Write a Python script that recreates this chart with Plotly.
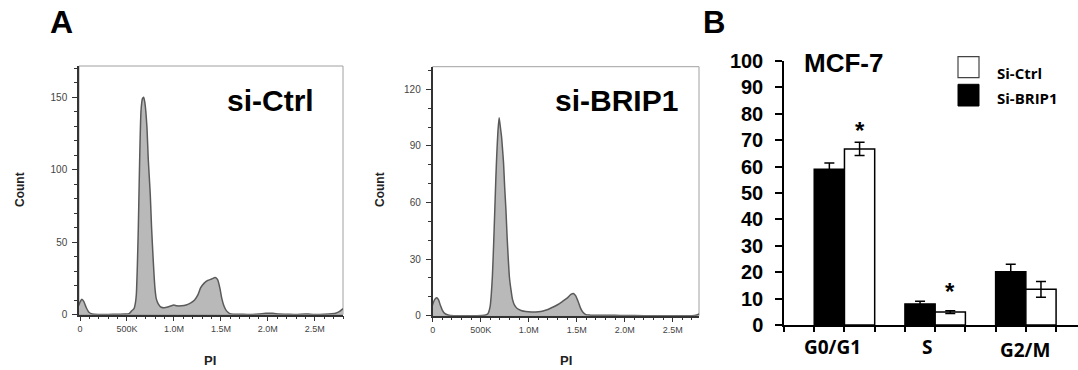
import numpy as np
import plotly.graph_objects as go

W, H = 1078, 370
OFF = 0  # body margin is removed below, so the figure sits at the top-left corner

# ---------------- Panel A data (flow cytometry histograms, PI in K units) ----------------
ctrl_pi_k = [-15, 0, 20, 40, 65, 95, 130, 200, 300, 400, 480, 522, 550, 575, 590, 600, 610, 621,
             630, 639, 650, 665, 678, 691, 712, 727, 748, 762, 780, 797, 812, 833, 865, 893, 950,
             1000, 1030, 1080, 1130, 1180, 1220, 1255, 1285, 1320, 1360, 1400, 1440, 1465, 1490,
             1510, 1535, 1560, 1590, 1630, 1700, 1800, 1900, 1980, 2050, 2120, 2200, 2300, 2400,
             2450, 2550, 2650, 2720, 2760, 2800]
ctrl_count = [6, 8.5, 10.5, 9, 5, 1.5, 0.3, 0, 0, 0.2, 0.3, 0.6, 2.5, 4, 8, 14, 32, 60,
              90, 118, 141, 149, 150, 146, 130, 107, 83, 60, 37, 19, 11, 7.4, 5, 4.6, 5.5,
              6.5, 6, 6, 6.5, 8, 10, 13.5, 18.5, 21.5, 23.5, 24.5, 25.5, 24, 18,
              11, 5.5, 2.5, 0.8, 0.2, 0.2, 0, 0.3, 0.8, 0.8, 0.3, 0.2, 0, 0.4,
              0.2, 0, 0.3, 0.8, 2.0, 4.0]

brip_pi_k = [-10, 0, 20, 42, 60, 80, 100, 125, 160, 220, 350, 450, 540, 575, 598, 610, 622, 635,
             647, 658, 668, 680, 692, 705, 717, 728, 738, 750, 763, 775, 788, 800, 816, 832, 851,
             880, 920, 970, 1030, 1100, 1150, 1200, 1250, 1300, 1350, 1400, 1440, 1465, 1490,
             1515, 1540, 1565, 1595, 1640, 1750, 1900, 2000, 2200, 2500, 2700, 2750, 2775]
brip_count = [4.5, 6, 8.5, 9.5, 8.5, 5.5, 3, 1.2, 0.4, 0, 0, 0, 0.2, 1, 4.8, 11, 21, 38,
              56, 73, 86, 98, 105, 100, 95, 88, 81, 68, 56, 42, 29.5, 20, 13.6, 8.5, 5.7,
              3.8, 2.8, 2.2, 2, 2.1, 2.5, 3.3, 4.5, 5.8, 7.5, 9.3, 11.3, 11.8, 10.5,
              7.5, 4, 1.8, 0.6, 0.3, 0.2, 0.2, 0.1, 0, 0, 0, 0.4, 1.0]

pi_tickvals = [0, 500000, 1000000, 1500000, 2000000, 2500000]
pi_ticktext = ["0", "500K", "1.0M", "1.5M", "2.0M", "2.5M"]
ctrl_count_ticks = [0, 50, 100, 150]
brip_count_ticks = [0, 30, 60, 90, 120]

# ---------------- Panel B data (cell cycle %) ----------------
phases = ["G0/G1", "S", "G2/M"]
si_brip1 = [59, 8, 20.2]
si_brip1_err = [2.4, 1.0, 2.8]
si_ctrl = [66.7, 4.9, 13.5]
si_ctrl_err = [2.5, 0.5, 3.0]
star_level = [74.6, 13.6, None]  # asterisk height (%) over Si-Ctrl bars
pct_ticks = list(range(0, 101, 10))

FONT = "Liberation Sans, Arial, sans-serif"
CAL = "Open Sans, Liberation Sans, sans-serif"


def px_x(px):
    return (px - OFF) / W


def px_y(py):
    return 1 - (py - OFF) / H


fig = go.Figure()

fill_col = "#b9b9b9"
line_col = "#5a5a5a"

fig.add_trace(go.Scatter(
    x=np.array(ctrl_pi_k) * 1000, y=ctrl_count, mode="lines",
    line=dict(color=line_col, width=1.5, shape="spline", smoothing=0.6),
    fill="tozeroy", fillcolor=fill_col, xaxis="x", yaxis="y", showlegend=False))

fig.add_trace(go.Scatter(
    x=np.array(brip_pi_k) * 1000, y=brip_count, mode="lines",
    line=dict(color=line_col, width=1.5, shape="spline", smoothing=0.6),
    fill="tozeroy", fillcolor=fill_col, xaxis="x2", yaxis="y2", showlegend=False))

xpos = np.arange(len(phases))
fig.add_trace(go.Bar(
    x=xpos, y=si_brip1, name="Si-BRIP1", marker=dict(color="black", line=dict(color="black", width=1.5)),
    error_y=dict(type="data", array=si_brip1_err, color="black", thickness=1.5, width=5),
    xaxis="x3", yaxis="y3", showlegend=False))
fig.add_trace(go.Bar(
    x=xpos, y=si_ctrl, name="Si-Ctrl", marker=dict(color="white", line=dict(color="black", width=1.5)),
    error_y=dict(type="data", array=si_ctrl_err, color="black", thickness=1.5, width=5),
    xaxis="x3", yaxis="y3", showlegend=False))

hist_tickfont = dict(family=FONT, size=9, color="#444")
common_x = dict(tickvals=pi_tickvals, ticktext=pi_ticktext, ticks="outside", ticklen=5, tickwidth=1,
                tickcolor="#333", showline=True, linecolor="#333", linewidth=1.5, showgrid=False,
                zeroline=False, tickfont=hist_tickfont, automargin=False,
                minor=dict(dtick=100000, tick0=0, ticks="outside", ticklen=3, tickcolor="#333"))
common_y = dict(ticks="outside", ticklen=5, tickwidth=1, tickcolor="#333", showline=True,
                linecolor="#333", linewidth=1.5, showgrid=False, zeroline=False,
                tickfont=dict(family=FONT, size=10, color="#444"), ticklabelstandoff=3,
                automargin=False,
                minor=dict(dtick=10, tick0=0, ticks="outside", ticklen=3, tickcolor="#333"))

edges = np.arange(-2 / 3, len(phases) - 0.5, 1 / 3)

fig.update_layout(
    width=W, height=H, margin=dict(l=0, r=0, t=0, b=0, pad=0, autoexpand=False),
    paper_bgcolor="white", plot_bgcolor="white",
    barmode="group", bargap=1 / 3, bargroupgap=0,
    xaxis=dict(domain=[px_x(79), px_x(343)], range=[-10600, 2.8e6], anchor="y", **common_x),
    yaxis=dict(domain=[px_y(314.5), px_y(66)], range=[0, 171.5], anchor="x",
               tickvals=ctrl_count_ticks, **common_y),
    xaxis2=dict(domain=[px_x(432.5), px_x(699)], range=[-2000, 2.774e6], anchor="y2", **common_x),
    yaxis2=dict(domain=[px_y(315.7), px_y(66.7)], range=[0, 132], anchor="x2",
                tickvals=brip_count_ticks, **common_y),
    xaxis3=dict(domain=[px_x(784), px_x(1078)], range=[-2 / 3, 2.575], anchor="y3",
                tickvals=list(edges), showticklabels=False, ticks="outside", ticklen=5,
                tickwidth=1.5, tickcolor="black", showline=True, linecolor="black",
                linewidth=1.5, showgrid=False, zeroline=False, automargin=False),
    yaxis3=dict(domain=[px_y(325), px_y(61)], range=[0, 100], anchor="x3",
                tickvals=pct_ticks, ticks="outside", ticklen=7, tickwidth=1.5, tickcolor="black",
                showline=True, linecolor="black", linewidth=1.5, showgrid=False, zeroline=False,
                ticklabelstandoff=8, automargin=False,
                tickfont=dict(family=FONT, size=20, color="black", weight="bold")),
)

# gray frames for histogram panels
for xr, yr in (("x domain", "y domain"), ("x2 domain", "y2 domain")):
    fig.add_shape(type="rect", xref=xr, yref=yr, x0=0, x1=1, y0=0, y1=1,
                  line=dict(color="#a0a0a0", width=1), layer="below")

ann = []


def text(x, y, s, size, family=FONT, angle=0, xanchor="center", color="black"):
    ann.append(dict(x=px_x(x), y=px_y(y), xref="paper", yref="paper", text=s, showarrow=False,
                    xanchor=xanchor, yanchor="middle", textangle=angle,
                    font=dict(family=family, size=size, color=color, weight="bold")))


text(61, 22, "A", 32)
text(714, 22, "B", 31)
text(270, 100, "si-Ctrl", 30)
text(616, 100, "si-BRIP1", 30)
text(20, 190, "Count", 12, angle=-90, color="#222")
text(380, 190, "Count", 12, angle=-90, color="#222")
text(210, 360, "PI", 13, color="#222")
text(566, 360, "PI", 13, color="#222")
text(843.5, 63, "MCF-7", 26)

# category labels
label_px = [832, 927, 1025]
label_py = [347, 347, 350]
for s, lx, ly in zip(phases, label_px, label_py):
    text(lx, ly, s, 19, family=CAL)

# significance asterisks above Si-Ctrl bars
for i, lvl in enumerate(star_level):
    if lvl is not None:
        ann.append(dict(x=i + 1 / 6, y=lvl, xref="x3", yref="y3", yshift=-18,
                        text="*", showarrow=False, yanchor="bottom",
                        font=dict(family=FONT, size=24, color="black", weight="bold")))

# legend
fig.add_shape(type="rect", xref="paper", yref="paper", x0=px_x(958), x1=px_x(979),
              y0=px_y(77.7), y1=px_y(56.7), line=dict(color="#444", width=1.2), fillcolor="white")
fig.add_shape(type="rect", xref="paper", yref="paper", x0=px_x(958), x1=px_x(979),
              y0=px_y(106), y1=px_y(84.3), line=dict(color="black", width=1), fillcolor="black")
text(995, 73.3, "Si-Ctrl", 15, family=CAL, xanchor="left")
text(995, 97.7, "Si-BRIP1", 15, family=CAL, xanchor="left")

fig.update_layout(annotations=ann)
fig.write_html("out.html", config={"displayModeBar": False},
               post_script="document.body.style.margin='0px';")
